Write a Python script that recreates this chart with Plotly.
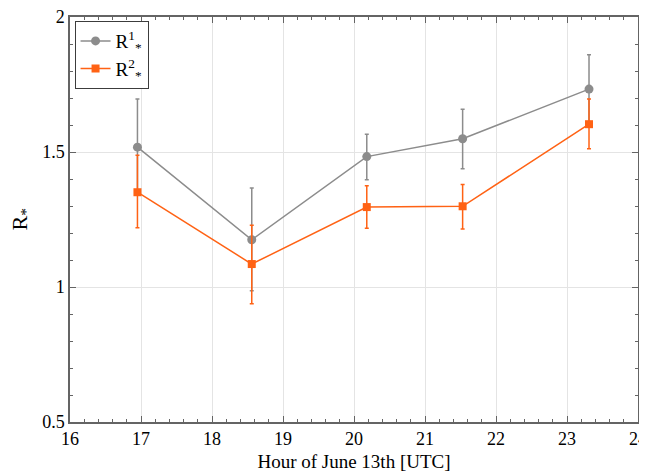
import plotly.graph_objects as go

hours = [16.95, 18.56, 20.18, 21.53, 23.31]
r1 = [1.518, 1.175, 1.483, 1.549, 1.733]
r1_hi = [1.696, 1.367, 1.566, 1.658, 1.860]
r1_lo = [1.340, 0.986, 1.397, 1.438, 1.606]
r2 = [1.351, 1.085, 1.296, 1.299, 1.603]
r2_hi = [1.488, 1.229, 1.375, 1.380, 1.696]
r2_lo = [1.219, 0.938, 1.218, 1.215, 1.512]

gray = "rgb(140,140,140)"
orange = "rgb(255,98,20)"
font = "Liberation Serif"

fig = go.Figure()
fig.add_trace(go.Scatter(
    x=hours, y=r1, mode="lines+markers", name="R<sup>1</sup><sub>*</sub>",
    line=dict(color=gray, width=1.5),
    marker=dict(symbol="circle", size=9, color=gray),
    error_y=dict(type="data", symmetric=False,
                 array=[h - v for h, v in zip(r1_hi, r1)],
                 arrayminus=[v - l for v, l in zip(r1, r1_lo)],
                 color=gray, thickness=1.5, width=2),
))
fig.add_trace(go.Scatter(
    x=hours, y=r2, mode="lines+markers", name="R<sup>2</sup><sub>*</sub>",
    line=dict(color=orange, width=1.5),
    marker=dict(symbol="square", size=8, color=orange),
    error_y=dict(type="data", symmetric=False,
                 array=[h - v for h, v in zip(r2_hi, r2)],
                 arrayminus=[v - l for v, l in zip(r2, r2_lo)],
                 color=orange, thickness=1.5, width=2),
))

axis_common = dict(
    showline=True, linecolor="rgb(100,100,100)", linewidth=1.5, mirror="ticks",
    ticks="inside", ticklen=6, tickcolor="rgb(100,100,100)", tickwidth=1,
    showgrid=True, gridcolor="rgb(228,228,228)", gridwidth=1, zeroline=False,
    automargin=False, ticklabeloverflow="allow",
    tickfont=dict(family=font, size=18, color="black"),
)

fig.update_xaxes(
    range=[16, 24], dtick=1, tick0=16,
    minor=dict(dtick=0.2, ticks="inside", ticklen=3, tickcolor="rgb(100,100,100)", showgrid=False),
    title=dict(text="Hour of June 13th [UTC]", font=dict(size=19), standoff=6),
    **axis_common,
)
fig.update_yaxes(
    range=[0.5, 2], dtick=0.5, tick0=0.5,
    minor=dict(dtick=0.1, ticks="inside", ticklen=3, tickcolor="rgb(100,100,100)", showgrid=False),
    **axis_common,
)

fig.add_annotation(
    text="R<sub>*</sub>", xref="paper", yref="paper", x=-0.088, y=0.5,
    xanchor="center", yanchor="middle", textangle=-90, showarrow=False,
    font=dict(family=font, size=22, color="black"),
)

fig.update_layout(
    width=647, height=471,
    margin=dict(l=62, r=17, t=9, b=57),
    font=dict(family=font, size=17, color="black"),
    paper_bgcolor="white", plot_bgcolor="white",
    showlegend=True,
    legend=dict(x=0.008, y=0.99, xanchor="left", yanchor="top",
                bordercolor="rgb(60,60,60)", borderwidth=1, bgcolor="white",
                font=dict(size=19),
                itemwidth=30, tracegroupgap=2),
)

fig.write_html("out.html")
